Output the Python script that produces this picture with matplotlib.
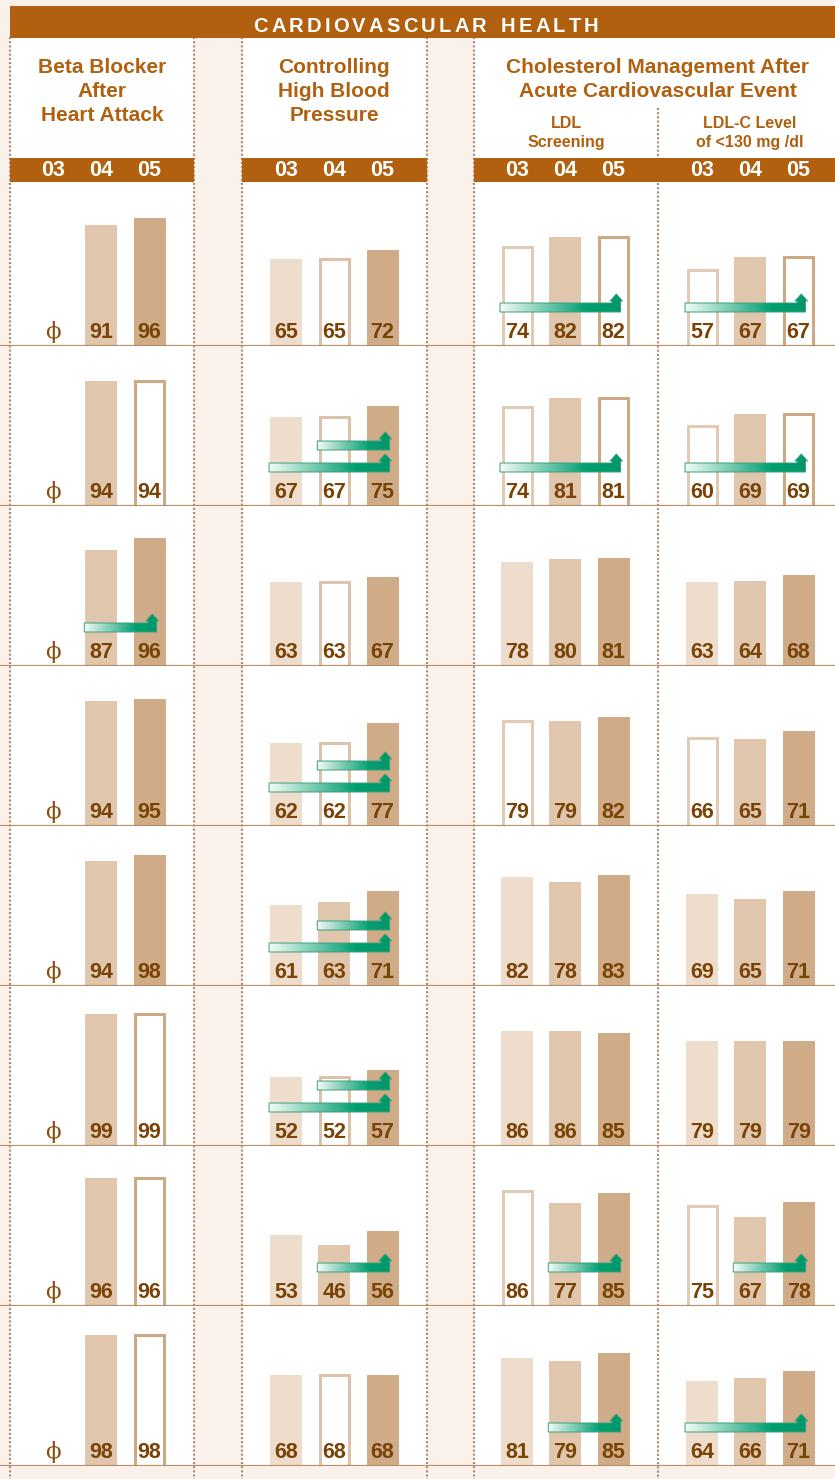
import numpy as np
import matplotlib
matplotlib.use('Agg')
from matplotlib import pyplot as plt
from matplotlib.patches import Rectangle, Polygon
from matplotlib.colors import LinearSegmentedColormap

nan = np.nan
years = ['03', '04', '05']

# rows = health plans, columns = 2003, 2004, 2005
beta_blocker = [[nan, 91, 96], [nan, 94, 94], [nan, 87, 96], [nan, 94, 95],
                [nan, 94, 98], [nan, 99, 99], [nan, 96, 96], [nan, 98, 98]]
blood_pressure = [[65, 65, 72], [67, 67, 75], [63, 63, 67], [62, 62, 77],
                  [61, 63, 71], [52, 52, 57], [53, 46, 56], [68, 68, 68]]
ldl_screening = [[74, 82, 82], [74, 81, 81], [78, 80, 81], [79, 79, 82],
                 [82, 78, 83], [86, 86, 85], [86, 77, 85], [81, 79, 85]]
ldl_level = [[57, 67, 67], [60, 69, 69], [63, 64, 68], [66, 65, 71],
             [69, 65, 71], [79, 79, 79], [75, 67, 78], [64, 66, 71]]

# 1 = outlined (hollow) bar
beta_hollow = [[0, 0, 0], [0, 0, 1], [0, 0, 0], [0, 0, 0],
               [0, 0, 0], [0, 0, 1], [0, 0, 1], [0, 0, 1]]
bp_hollow = [[0, 1, 0], [0, 1, 0], [0, 1, 0], [0, 1, 0],
             [0, 0, 0], [0, 1, 0], [0, 0, 0], [0, 1, 0]]
ldl_hollow = [[1, 0, 1], [1, 0, 1], [0, 0, 0], [1, 0, 0],
              [0, 0, 0], [0, 0, 0], [1, 0, 0], [0, 0, 0]]
ldlc_hollow = [[1, 0, 1], [1, 0, 1], [0, 0, 0], [1, 0, 0],
               [0, 0, 0], [0, 0, 0], [1, 0, 0], [0, 0, 0]]

# improvement arrows: (row, group, start year index) -> ending at 05
arrow_row = [0, 0, 1, 1, 1, 1, 2, 3, 3, 4, 4, 5, 5, 6, 6, 6, 7, 7]
arrow_group = [2, 3, 1, 1, 2, 3, 0, 1, 1, 1, 1, 1, 1, 1, 2, 3, 2, 3]
arrow_start = [0, 0, 1, 0, 0, 0, 1, 1, 0, 1, 0, 1, 0, 1, 1, 1, 1, 0]

groups = [beta_blocker, blood_pressure, ldl_screening, ldl_level]
hollows = [beta_hollow, bp_hollow, ldl_hollow, ldlc_hollow]

# ---- styling / layout (pixels) ----
W, H = 835, 1479
cream = '#F9F1EA'
brown = '#B0600F'
num_col = '#7A4306'
line_col = '#BC8C62'
dot_col = '#A98C70'
fills = ['#EEDDCC', '#DFC6AD', '#CFAB88']
edges = ['#E2CBB4', '#DCC2A8', '#CCA883']
group_x = [53, 286, 517, 702]
pitch = 48.3
bar_w = 32
row_h = 160
first_base = 346
PX = 120 / row_h  # value units per pixel

plt.rcParams['font.family'] = ['Liberation Sans', 'DejaVu Sans']

fig = plt.figure(figsize=(W / 100, H / 100), dpi=100)
fig.patch.set_facecolor(cream)

bg = fig.add_axes([0, 0, 1, 1])
bg.set_xlim(0, W)
bg.set_ylim(H, 0)
bg.axis('off')

bottom = first_base + row_h * 7
spans = [(10, 194), (242, 427), (474, W)]
for x0, x1 in spans:
    bg.add_patch(Rectangle((x0, 37), x1 - x0, bottom - 37, fc='white', lw=0, zorder=1))
    bg.add_patch(Rectangle((x0, 158), x1 - x0, 23.5, fc=brown, lw=0, zorder=3))
bg.add_patch(Rectangle((10, 6), W - 10, 31.5, fc=brown, lw=0, zorder=3))

for x in [10, 194, 242, 427, 474]:
    bg.plot([x, x], [37, H], ls=(0, (1, 1)), lw=1.5, color=dot_col, zorder=2)
bg.plot([658, 658], [108, H], ls=(0, (1, 1)), lw=1.5, color=dot_col, zorder=2)

# letter-spaced banner title
renderer = fig.canvas.get_renderer()
title_kw = dict(color='white', fontsize=14.5, fontweight='bold', va='baseline', zorder=4)
letters = list('CARDIOVASCULAR HEALTH')
widths = []
for ch in letters:
    if ch == ' ':
        widths.append(8.0)
        continue
    t = bg.text(0, 0, ch, **title_kw)
    widths.append(t.get_window_extent(renderer).width)
    t.remove()
track = 3.2
total = sum(widths) + track * (len(letters) - 1)
x = 426 - total / 2
for ch, w in zip(letters, widths):
    if ch != ' ':
        bg.text(x, 31.5, ch, ha='left', **title_kw)
    x += w + track

head_kw = dict(color=brown, fontweight='bold', ha='center', va='baseline', zorder=4)
for lines, x in [(['Beta Blocker', 'After', 'Heart Attack'], 102),
                 (['Controlling', 'High Blood', 'Pressure'], 334),
                 (['Cholesterol Management After', 'Acute Cardiovascular Event'], 658)]:
    for k, s in enumerate(lines):
        bg.text(x, 73 + 24 * k, s, fontsize=15, **head_kw)
for lines, x in [(['LDL', 'Screening'], 566), (['LDL-C Level', 'of <130 mg /dl'], 750)]:
    for k, s in enumerate(lines):
        bg.text(x, 128 + 19 * k, s, fontsize=11.5, **head_kw)

for gx in group_x:
    for j, y in enumerate(years):
        bg.text(gx + pitch * j, 176.5, y, color='white', fontsize=15.5, fontweight='bold',
                ha='center', va='baseline', zorder=4)

green = LinearSegmentedColormap.from_list(
    'grn', [(0, '#F4FAF7'), (0.72, '#009E70'), (1, '#00976B')])


def arrow_shape(x0, x1, cy):
    half = 4.5
    tip = x1 - 4.3
    top = cy + half
    pts = [(x0, cy - half), (x1, cy - half), (x1, top + 2), (tip + 6.3, top + 2),
           (tip, top + 9), (tip - 6.3, top + 2), (x1 - 8.6, top + 2), (x1 - 8.6, top),
           (x0, top)]
    return [(x, y * PX) for x, y in pts]


for i in range(8):
    base = first_base + row_h * i
    ax = fig.add_axes([0, (H - base) / H, 1, row_h / H])
    ax.patch.set_visible(False)
    ax.axis('off')

    for g, (vals, hol) in enumerate(zip(groups, hollows)):
        cx = group_x[g] + pitch * np.arange(3)
        for j in range(3):
            v = vals[i][j]
            if np.isnan(v):
                ax.text(cx[j], 8 * PX, '\u03d5', family='DejaVu Serif', fontsize=16.5,
                        color='#8A5010', ha='center', va='baseline', zorder=6)
                continue
            if hol[i][j]:
                ax.bar(cx[j], v, width=bar_w - 3, fc='white', ec=edges[j],
                       lw=3 * 0.72, zorder=2)
            else:
                ax.bar(cx[j], v, width=bar_w, color=fills[j], lw=0, zorder=2)
            ax.text(cx[j], 8 * PX, f'{v:.0f}', color=num_col, fontsize=15.5,
                    fontweight='bold', ha='center', va='baseline', zorder=6)

    for r, g, s in zip(arrow_row, arrow_group, arrow_start):
        if r != i:
            continue
        upper = s == 1 and any(rr == r and gg == g and ss == 0
                               for rr, gg, ss in zip(arrow_row, arrow_group, arrow_start))
        cy = 60.5 if upper else 38.5
        x0 = group_x[g] + pitch * s - 17
        x1 = group_x[g] + pitch * 2 + 7
        poly = Polygon(arrow_shape(x0, x1, cy), closed=True, fc='none',
                       ec='#3E9F7C', lw=0.7, zorder=5)
        ax.add_patch(poly)
        im = ax.imshow(np.linspace(0, 1, 256).reshape(1, -1),
                       extent=(x0, x1, (cy - 6) * PX, (cy + 15) * PX),
                       cmap=green, aspect='auto', interpolation='bilinear', zorder=4)
        im.set_clip_path(poly)

    ax.axhline(0, color=line_col, lw=1.6, zorder=7)
    ax.set_xlim(0, W)
    ax.set_ylim(0, 120)

fig.savefig('out.png', dpi=100, facecolor=cream)
